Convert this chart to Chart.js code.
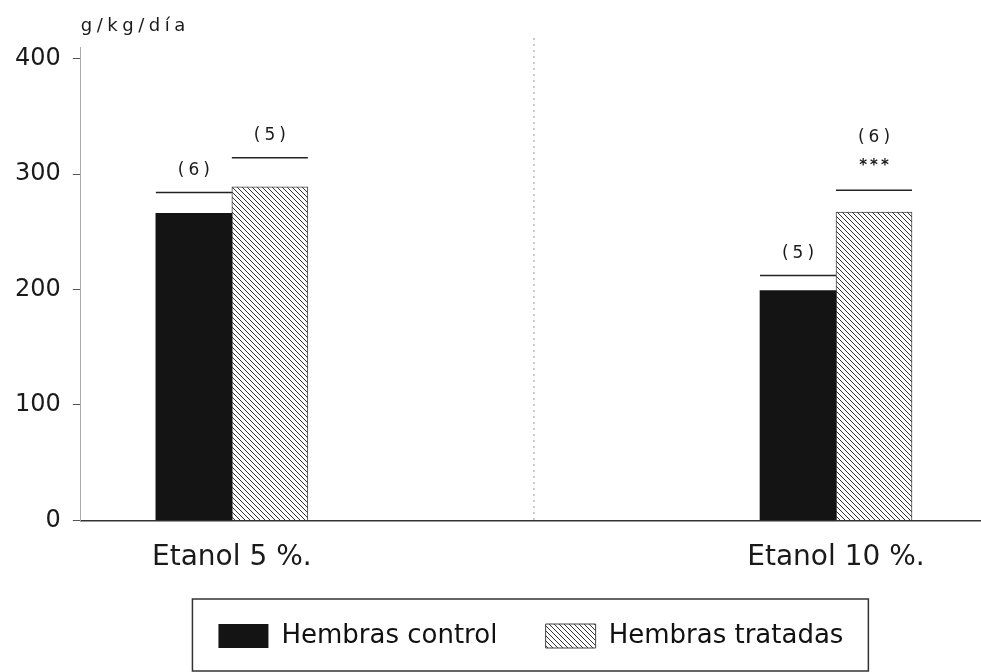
<!DOCTYPE html>
<html>
<head>
<meta charset="utf-8">
<script src="https://cdn.jsdelivr.net/npm/chart.js@4.4.1/dist/chart.umd.min.js"></script>
<style>
  html, body { margin: 0; padding: 0; background: #fff; }
  #wrap { width: 981px; height: 672px; }
</style>
</head>
<body>
<div id="wrap"><canvas id="grafico"></canvas></div>
<script>
// datos
const categories = ['Etanol 5 %.', 'Etanol 10 %.']
const seriesNames = ['Hembras control', 'Hembras tratadas']
const controlValues = [266, 199]
const treatedValues = [289, 267]
const controlErrTop = [284, 212]   // media + error
const treatedErrTop = [314, 286]
const controlN = ['(6)', '(5)']
const treatedN = ['(5)', '(6)']
const treatedSignif = ['', '***']
const yTicks = [0, 100, 200, 300, 400]
const yUnit = 'g/kg/día'

function hatchPattern() {//rayado diagonal para las tratadas
    const c = document.createElement('canvas')
    c.width = 5
    c.height = 5
    const g = c.getContext('2d')
    g.fillStyle = '#fff'
    g.fillRect(0, 0, 5, 5)
    g.strokeStyle = '#333'
    g.lineWidth = 1
    g.beginPath()
    g.moveTo(-1, -1); g.lineTo(6, 6)
    g.moveTo(-1, 4); g.lineTo(1, 6)
    g.moveTo(4, -1); g.lineTo(6, 1)
    g.stroke()
    return g.createPattern(c, 'repeat')
}

const errTops = [controlErrTop, treatedErrTop]
const nLabels = [controlN, treatedN]
const signif = [['', ''], treatedSignif]

const annotations = {
    id: 'annotations',
    beforeDatasetsDraw(chart) {
        const { ctx, chartArea, scales } = chart
        const x = scales.x.getPixelForValue(0.5)//linea divisoria entre grupos
        ctx.save()
        ctx.strokeStyle = '#999'
        ctx.lineWidth = 1
        ctx.setLineDash([2, 4])
        ctx.beginPath()
        ctx.moveTo(x, chartArea.top - 9)
        ctx.lineTo(x, chartArea.bottom)
        ctx.stroke()
        ctx.restore()
    },
    afterDatasetsDraw(chart) {
        const { ctx, scales } = chart
        ctx.save()
        ctx.fillStyle = '#1a1a1a'
        ctx.strokeStyle = '#222'
        ctx.textAlign = 'center'
        ctx.textBaseline = 'middle'
        chart.data.datasets.forEach(function (ds, d) {
            chart.getDatasetMeta(d).data.forEach(function (bar, i) {
                const y = scales.y.getPixelForValue(errTops[d][i])
                const half = bar.width / 2
                ctx.lineWidth = 1.5
                ctx.beginPath()
                ctx.moveTo(bar.x - half, y)
                ctx.lineTo(bar.x + half, y)
                ctx.stroke()
                let ny = y - 22
                if (signif[d][i]) {
                    ctx.font = 'bold 15px "DejaVu Sans"'
                    ctx.letterSpacing = '3px'
                    ctx.fillText(signif[d][i], bar.x + 1.5, y - 24)
                    ny = y - 53
                }
                ctx.font = '17px "DejaVu Sans"'
                ctx.letterSpacing = '4px'
                ctx.fillText(nLabels[d][i], bar.x + 2, ny)
            })
        })
        ctx.restore()
    },
    afterDraw(chart) {
        const { ctx, scales } = chart
        ctx.save()
        // unidad del eje y
        ctx.font = '18px "DejaVu Sans"'
        ctx.letterSpacing = '4.5px'
        ctx.fillStyle = '#1a1a1a'
        ctx.textAlign = 'left'
        ctx.textBaseline = 'alphabetic'
        ctx.fillText(yUnit, scales.y.right, 31)
        ctx.letterSpacing = '0px'
        // marco de la leyenda
        const boxes = chart.legend.legendHitBoxes
        if (boxes && boxes.length) {
            const first = boxes[0]
            const last = boxes[boxes.length - 1]
            const cy = first.top + first.height / 2
            ctx.strokeStyle = '#333'
            ctx.lineWidth = 1.5
            ctx.strokeRect(first.left - 26, cy - 37, last.left + last.width + 25 - (first.left - 26), 72)
        }
        ctx.restore()
    }
}

Chart.defaults.font.family = '"DejaVu Sans", sans-serif'
Chart.defaults.color = '#1a1a1a'

new Chart(document.getElementById('grafico'), {
    type: 'bar',
    data: {
        datasets: [{
            label: seriesNames[0],
            data: controlValues.map((v, i) => ({ x: i, y: v })),
            backgroundColor: '#141414',
            borderColor: '#141414',
            borderWidth: 0
        }, {
            label: seriesNames[1],
            data: treatedValues.map((v, i) => ({ x: i, y: v })),
            backgroundColor: hatchPattern(),
            borderColor: '#444',
            borderWidth: 1
        }]
    },
    options: {
        responsive: true,
        maintainAspectRatio: false,
        animation: false,
        events: [],
        barThickness: 76,
        layout: { padding: { top: 47, left: 3, right: 0, bottom: 13 } },
        plugins: {
            legend: {
                position: 'bottom',
                fullSize: false,
                labels: {
                    boxWidth: 50,
                    boxHeight: 24,
                    padding: 27,
                    font: { size: 26 },
                    color: '#111',
                    generateLabels: function (chart) {
                        const items = Chart.defaults.plugins.legend.labels.generateLabels(chart)
                        items[0].text = items[0].text + '\u2002\u00a0'//mas aire entre elementos
                        return items
                    }
                }
            },
            tooltip: { enabled: false }
        },
        scales: {
            x: {
                type: 'linear',
                min: -0.25,
                max: 1.24,
                offset: false,
                grid: { display: false, offset: false, drawTicks: false },
                border: { display: true, color: '#333', width: 1.5 },
                afterBuildTicks: function (scale) {
                    scale.ticks = categories.map((c, i) => ({ value: i }))
                },
                ticks: {
                    autoSkip: false,
                    maxRotation: 0,
                    padding: 21,
                    font: { size: 28 },
                    callback: function (value) {
                        return categories[value]
                    }
                }
            },
            y: {
                min: 0,
                max: 410,
                afterBuildTicks: function (scale) {
                    scale.ticks = yTicks.map(v => ({ value: v }))
                },
                grid: { drawOnChartArea: false, drawTicks: true, tickLength: 8, color: '#555' },
                border: { display: true, color: '#aaa', width: 1, dash: [3, 2] },
                ticks: {
                    padding: 12,
                    font: { size: 24 }
                }
            }
        }
    },
    plugins: [annotations]
})
</script>
</body>
</html>
